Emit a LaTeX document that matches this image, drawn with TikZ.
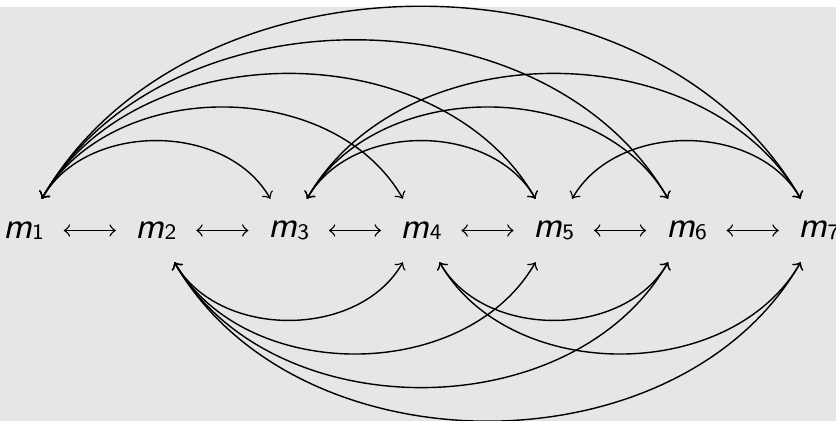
\documentclass[tikz,border=0pt]{standalone}
\usetikzlibrary{arrows}
\definecolor{bggray}{RGB}{230,230,230}
\newcommand\mlabel[1]{{\fontsize{10.4}{12}\selectfont\sffamily\slshape m}{\fontsize{6.3}{8}\selectfont\sffamily\raisebox{-0.45pt}{#1}}}
\tikzset{
  mnd/.style={rectangle, inner sep=0pt, minimum width=0.79cm, minimum height=0.62cm},
  link/.style={<->, >=to, line width=0.4pt},
  over/.style={link, bend left=60},
  under/.style={link, bend right=60}
}
\begin{document}
\begin{tikzpicture}
\useasboundingbox (0,0) rectangle (8.36,4.21);
\fill[white] (0,4.14) rectangle (8.36,4.21);
\fill[bggray] (0,0) rectangle (8.36,4.14);
\foreach \i in {1,...,7}{
  \node[mnd] (m\i) at ({0.235+(\i-1)*1.3258},1.905) {\mlabel{\i}};
}
\foreach \a/\b in {1/2,2/3,3/4,4/5,5/6,6/7}{
  \draw[link] (m\a) -- (m\b);
}
\foreach \a/\b in {1/3,1/4,1/5,1/6,1/7,3/5,3/6,3/7,5/7}{
  \draw[link] (m\a) to[over] (m\b);
}
\foreach \a/\b in {2/4,2/5,2/6,2/7,4/6,4/7}{
  \draw[link] (m\a) to[under] (m\b);
}
\end{tikzpicture}
\end{document}
